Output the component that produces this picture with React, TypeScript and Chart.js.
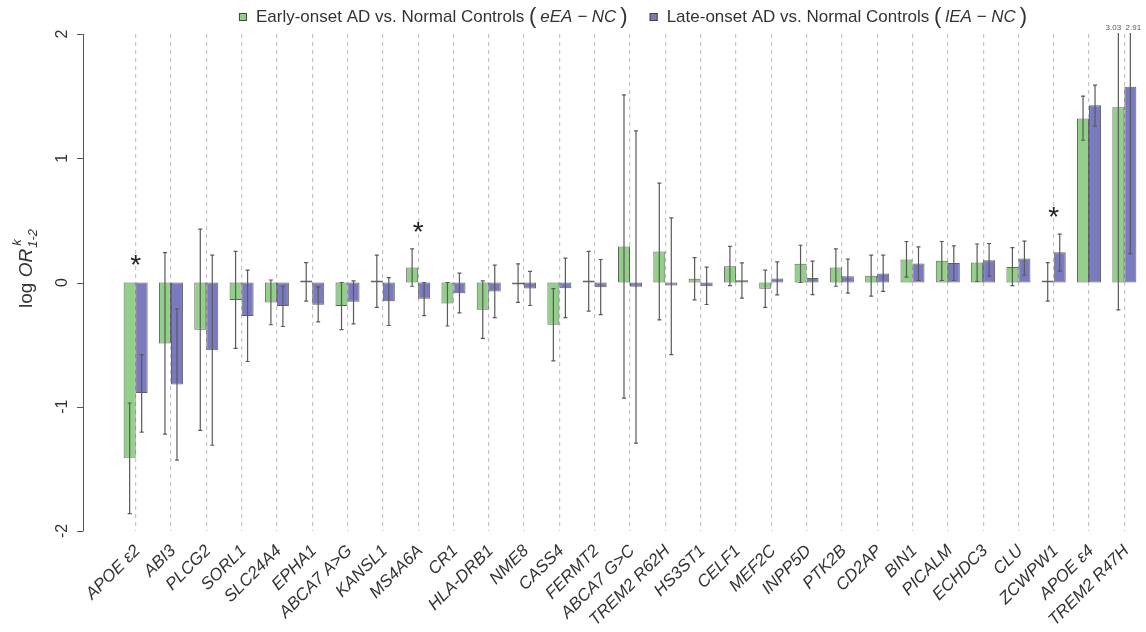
import React, { useEffect, useRef } from "react";
import { Chart, registerables } from "chart.js";

Chart.register(...registerables);

// ---------------- data ----------------
const genes = [
  "APOE ε2", "ABI3", "PLCG2", "SORL1", "SLC24A4", "EPHA1", "ABCA7 A>G", "KANSL1",
  "MS4A6A", "CR1", "HLA-DRB1", "NME8", "CASS4", "FERMT2", "ABCA7 G>C", "TREM2 R62H",
  "HS3ST1", "CELF1", "MEF2C", "INPP5D", "PTK2B", "CD2AP", "BIN1", "PICALM",
  "ECHDC3", "CLU", "ZCWPW1", "APOE ε4", "TREM2 R47H",
];

// early-onset AD vs normal controls (eEA - NC)
const eeaValues = [
  -1.41, -0.49, -0.38, -0.14, -0.16, 0.005, -0.19, 0.016, 0.12, -0.17, -0.22, -0.005, -0.34, 0.01,
  0.29, 0.25, 0.03, 0.13, -0.05, 0.15, 0.12, 0.055, 0.185, 0.175, 0.16, 0.125, 0.005, 1.32, 1.41,
];
const eeaLower = [
  -1.86, -1.22, -1.19, -0.53, -0.34, -0.15, -0.38, -0.2, -0.03, -0.35, -0.45, -0.16, -0.63, -0.23,
  -0.93, -0.3, -0.14, -0.025, -0.2, 0.0, -0.03, -0.11, 0.043, 0.016, 0.008, -0.025, -0.15, 1.145, -0.22,
];
const eeaUpper = [
  -0.97, 0.24, 0.43, 0.25, 0.02, 0.16, 0.0, 0.22, 0.27, 0.0, 0.013, 0.15, -0.05, 0.25,
  1.51, 0.8, 0.2, 0.29, 0.1, 0.3, 0.27, 0.22, 0.33, 0.33, 0.31, 0.28, 0.16, 1.5, 3.03,
];

// late-onset AD vs normal controls (lEA - NC)
const leaValues = [
  -0.89, -0.82, -0.545, -0.27, -0.19, -0.18, -0.155, -0.15, -0.13, -0.086, -0.072, -0.048, -0.046, -0.038,
  -0.035, -0.024, -0.03, 0.019, 0.032, 0.037, 0.051, 0.072, 0.153, 0.156, 0.18, 0.193, 0.244, 1.427, 1.575,
];
const leaLower = [
  -1.205, -1.43, -1.31, -0.636, -0.354, -0.317, -0.333, -0.346, -0.266, -0.244, -0.282, -0.185, -0.282, -0.258,
  -1.293, -0.58, -0.177, -0.126, -0.099, -0.097, -0.086, -0.072, 0.016, 0.016, 0.051, 0.059, 0.091, 1.258, 0.233,
];
const leaUpper = [
  -0.58, -0.212, 0.22, 0.099, -0.03, -0.035, 0.013, 0.04, 0.0, 0.075, 0.14, 0.089, 0.196, 0.185,
  1.22, 0.52, 0.123, 0.158, 0.166, 0.172, 0.188, 0.22, 0.287, 0.295, 0.314, 0.333, 0.389, 1.588, 2.91,
];

const significantGenes = ["APOE ε2", "MS4A6A", "ZCWPW1"];

const yMin = -2;
const yMax = 2;
const yStep = 1;

const legendLabels = ["Early-onset AD vs. Normal Controls", "Late-onset AD vs. Normal Controls"];
const legendMath = ["eEA − NC", "lEA − NC"];

// ---------------- style ----------------
const GREEN = "#92CF89";
const BLUE = "#7A7AC0";
const EDGE = "rgba(70,70,70,0.85)";
const FONT = "'Liberation Sans', Arial, Helvetica, sans-serif";
const TEXT = "#333333";

const errorBarPlugin = {
  id: "errorBars",
  afterDatasetsDraw(chart: any) {
    const { ctx, chartArea, scales } = chart;
    const y = scales.y;
    const bounds = [
      [eeaLower, eeaUpper],
      [leaLower, leaUpper],
    ];
    ctx.save();
    ctx.beginPath();
    ctx.rect(chartArea.left, chartArea.top - 1, chartArea.right - chartArea.left, chartArea.bottom - chartArea.top + 2);
    ctx.clip();
    ctx.strokeStyle = "#5a5a5a";
    ctx.lineWidth = 1.2;
    bounds.forEach(([lo, hi], di) => {
      const meta = chart.getDatasetMeta(di);
      meta.data.forEach((bar: any, i: number) => {
        const x = bar.x;
        const yl = y.getPixelForValue(lo[i]);
        const yh = y.getPixelForValue(hi[i]);
        ctx.beginPath();
        ctx.moveTo(x, yl);
        ctx.lineTo(x, yh);
        ctx.moveTo(x - 2, yl);
        ctx.lineTo(x + 2, yl);
        if (hi[i] <= yMax) {
          ctx.moveTo(x - 2, yh);
          ctx.lineTo(x + 2, yh);
        }
        ctx.stroke();
      });
    });
    ctx.restore();

    // labels for clipped upper bounds
    ctx.save();
    ctx.font = `8px ${FONT}`;
    ctx.fillStyle = "#555";
    ctx.textAlign = "center";
    ctx.textBaseline = "middle";
    bounds.forEach(([, hi], di) => {
      const meta = chart.getDatasetMeta(di);
      meta.data.forEach((bar: any, i: number) => {
        if (hi[i] > yMax) {
          const dx = di === 0 ? -5 : 3;
          ctx.fillText(hi[i].toFixed(2), bar.x + dx, chartArea.top - 6);
        }
      });
    });
    ctx.restore();

    // significance stars
    const xs = scales.x;
    ctx.save();
    ctx.font = `28px ${FONT}`;
    ctx.fillStyle = "#222";
    ctx.textAlign = "center";
    ctx.textBaseline = "alphabetic";
    genes.forEach((g, i) => {
      if (!significantGenes.includes(g)) return;
      const top = Math.max(0, eeaUpper[i], leaUpper[i]) + 0.195;
      const px = xs.getPixelForValue(i);
      const py = y.getPixelForValue(top);
      ctx.fillText("*", px, py + 16);
    });
    ctx.restore();
  },
};

const decorPlugin = {
  id: "decor",
  afterDraw(chart: any) {
    const { ctx, chartArea, scales } = chart;
    const y = scales.y;
    // y axis line detached from plot
    const ax = chartArea.left - 35;
    ctx.save();
    ctx.strokeStyle = "#555";
    ctx.lineWidth = 1;
    ctx.beginPath();
    ctx.moveTo(ax + 0.5, y.getPixelForValue(yMin));
    ctx.lineTo(ax + 0.5, y.getPixelForValue(yMax));
    y.ticks.forEach((t: any) => {
      const py = Math.round(y.getPixelForValue(t.value)) + 0.5;
      ctx.moveTo(ax - 6, py);
      ctx.lineTo(ax + 0.5, py);
    });
    ctx.stroke();
    ctx.restore();

    // y axis title: log OR^k_{1-2}
    ctx.save();
    ctx.translate(25, (chartArea.top + chartArea.bottom) / 2 - 14);
    ctx.rotate(-Math.PI / 2);
    ctx.fillStyle = TEXT;
    ctx.textBaseline = "alphabetic";
    const f1 = `19px ${FONT}`;
    const f2 = `italic 19px ${FONT}`;
    const f3 = `italic 13px ${FONT}`;
    ctx.font = f1;
    const wLog = ctx.measureText("log ").width;
    ctx.font = f2;
    const wOR = ctx.measureText("OR").width;
    ctx.font = f3;
    const wSub = ctx.measureText("1-2").width;
    const total = wLog + wOR + wSub + 1;
    let x = -total / 2;
    const base = 7;
    ctx.font = f1;
    ctx.textAlign = "left";
    ctx.fillText("log ", x, base);
    x += wLog;
    ctx.font = f2;
    ctx.fillText("OR", x, base);
    x += wOR + 1;
    ctx.font = f3;
    ctx.fillText("k", x + 2, base - 11);
    ctx.fillText("1-2", x, base + 5);
    ctx.restore();

    // legend
    ctx.save();
    const textFont = `17px ${FONT}`;
    const mathFont = `italic 17px ${FONT}`;
    const parenFont = `22px ${FONT}`;
    const ly = 17;
    const inner = 4;
    const colors = [GREEN, BLUE];
    const widths: number[] = [];
    legendLabels.forEach((lab, k) => {
      ctx.font = textFont;
      let w = 8 + 9 + ctx.measureText(lab + " ").width;
      ctx.font = parenFont;
      w += ctx.measureText("(").width * 2 + inner * 2;
      ctx.font = mathFont;
      w += ctx.measureText(legendMath[k]).width;
      widths.push(w);
    });
    const gap = 22;
    const totalW = widths[0] + widths[1] + gap;
    let lx = (chartArea.left + chartArea.right) / 2 + 3 - totalW / 2;
    ctx.textBaseline = "middle";
    ctx.textAlign = "left";
    legendLabels.forEach((lab, k) => {
      ctx.fillStyle = colors[k];
      ctx.fillRect(lx, ly - 4, 8, 8);
      ctx.strokeStyle = "#444";
      ctx.lineWidth = 1;
      ctx.strokeRect(lx + 0.5, ly - 3.5, 7, 7);
      let x2 = lx + 17;
      ctx.fillStyle = TEXT;
      ctx.font = textFont;
      ctx.fillText(lab + " ", x2, ly);
      x2 += ctx.measureText(lab + " ").width;
      ctx.font = parenFont;
      ctx.fillText("(", x2, ly);
      x2 += ctx.measureText("(").width + inner;
      ctx.font = mathFont;
      ctx.fillText(legendMath[k], x2, ly);
      x2 += ctx.measureText(legendMath[k]).width + inner;
      ctx.font = parenFont;
      ctx.fillText(")", x2, ly);
      lx += widths[k] + gap;
    });
    ctx.restore();
  },
};

const zeroPadding = (scale: any) => {
  scale.paddingTop = 0;
  scale.paddingBottom = 0;
  scale.paddingLeft = 0;
  scale.paddingRight = 0;
};

export default function App() {
  const canvasRef = useRef<HTMLCanvasElement>(null);

  useEffect(() => {
    if (!canvasRef.current) return;
    Chart.defaults.font.family = FONT;
    const chart = new Chart(canvasRef.current, {
      type: "bar",
      data: {
        labels: genes,
        datasets: [
          {
            label: legendLabels[0],
            data: eeaValues,
            backgroundColor: GREEN,
            borderColor: EDGE,
            borderWidth: 1,
            borderSkipped: false,
            minBarLength: 2,
            categoryPercentage: 0.68,
            barPercentage: 1.0,
          },
          {
            label: legendLabels[1],
            data: leaValues,
            backgroundColor: BLUE,
            borderColor: EDGE,
            borderWidth: 1,
            borderSkipped: false,
            minBarLength: 2,
            categoryPercentage: 0.68,
            barPercentage: 1.0,
          },
        ],
      },
      options: {
        animation: false,
        responsive: true,
        maintainAspectRatio: false,
        events: [],
        layout: { padding: { top: 34, right: 4, bottom: 0, left: 0 } },
        plugins: {
          legend: { display: false },
          tooltip: { enabled: false },
          title: { display: false },
        },
        scales: {
          x: {
            type: "category",
            offset: true,
            grid: {
              display: true,
              offset: false,
              drawTicks: false,
              color: "#c4c4c4",
              lineWidth: 1.2,
            },
            border: { display: false, dash: [4, 4] },
            ticks: {
              autoSkip: false,
              minRotation: 45,
              maxRotation: 45,
              padding: 10,
              labelOffset: 2,
              color: TEXT,
              font: { family: FONT, size: 17, style: "italic" },
            },
            afterFit: (scale: any) => {
              scale.height = 101;
              zeroPadding(scale);
            },
          },
          y: {
            min: yMin,
            max: yMax,
            grid: { display: false, drawTicks: false },
            border: { display: false },
            ticks: {
              stepSize: yStep,
              minRotation: 90,
              maxRotation: 90,
              crossAlign: "center",
              padding: 48,
              color: TEXT,
              font: { family: FONT, size: 16 },
            },
            afterFit: (scale: any) => {
              scale.width = 118;
              zeroPadding(scale);
            },
          },
        },
      },
      plugins: [errorBarPlugin, decorPlugin],
    } as any);
    return () => chart.destroy();
  }, []);

  return (
    <div style={{ position: "absolute", left: 0, top: 0, width: 1146, height: 632, background: "#fff" }}>
      <canvas ref={canvasRef} />
    </div>
  );
}
